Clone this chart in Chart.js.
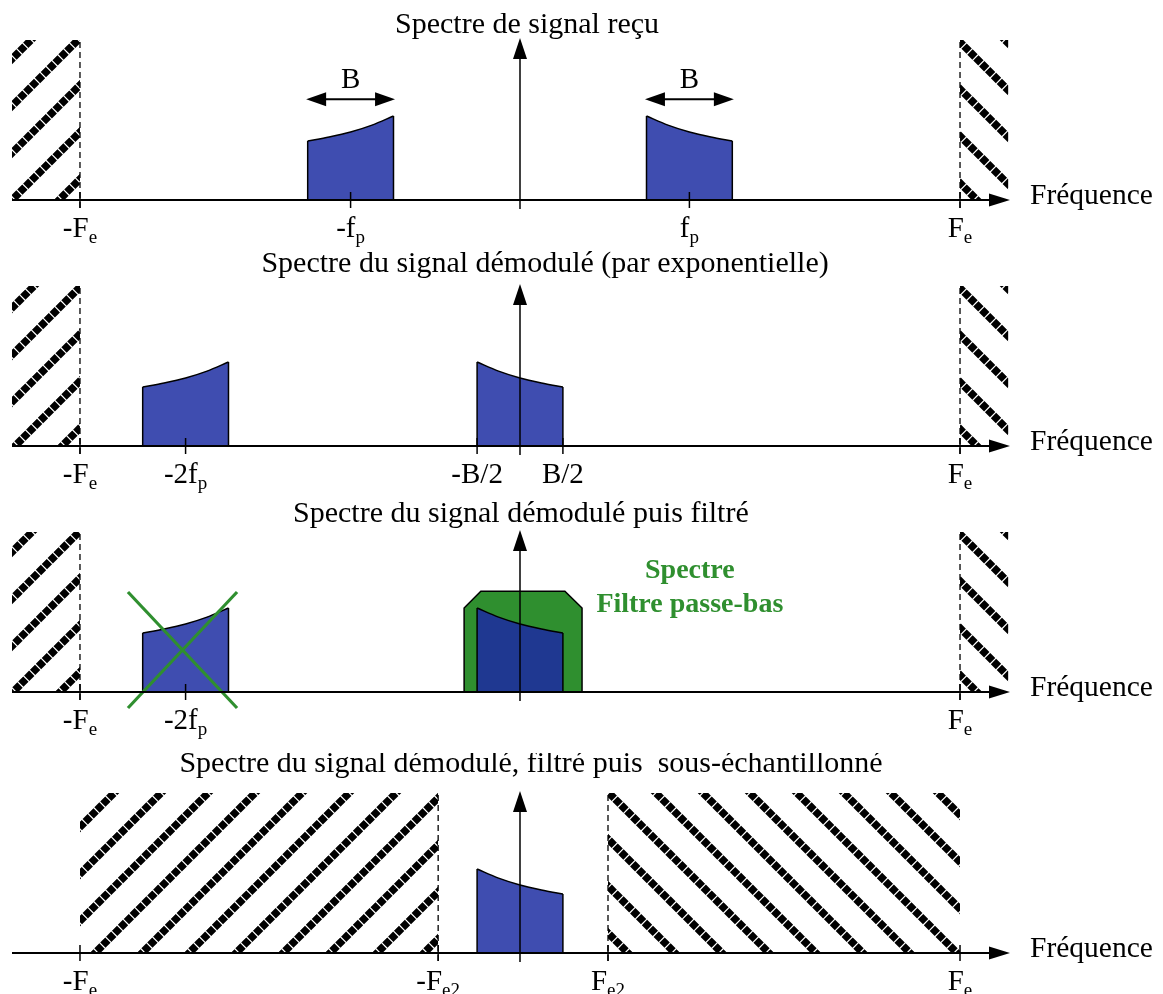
<!DOCTYPE html>
<html>
<head>
<meta charset="utf-8">
<script src="https://cdn.jsdelivr.net/npm/chart.js@4.4.1/dist/chart.umd.min.js"></script>
<style>
  html, body { margin: 0; padding: 0; background: #fff; overflow: hidden; width: 1163px; height: 994px; }
  canvas { position: absolute; left: 0; }
</style>
</head>
<body>
<canvas id="c1" width="1163" height="250" style="top:0px"></canvas>
<canvas id="c2" width="1163" height="250" style="top:246px"></canvas>
<canvas id="c3" width="1163" height="250" style="top:492px"></canvas>
<canvas id="c4" width="1163" height="250" style="top:753px"></canvas>
<script>
// ---------- DATA (frequency units: Fe = 100, amplitude units: hatch height = 100) ----------
const xLimits = [-115.45, 111.36];
const yLimits = [0, 100];
const hatchTop = [100];

// shapes of the spectral band (amplitude along the band, 5 samples)
const risingY  = [36.9, 39.4, 42.5, 46.8, 52.5];
const fallingY = [52.5, 46.8, 42.5, 39.4, 36.9];

// Panel 1 : Spectre de signal reçu
const p1Title = 'Spectre de signal reçu';
const p1HatchLeft  = [-115.45, -100];
const p1HatchRight = [100, 111];
const p1Dashed = [-100, 100];
const p1BandLeftX  = [-48.25, -43.375, -38.5, -33.625, -28.75];
const p1BandRightX = [28.75, 33.625, 38.5, 43.375, 48.25];
const p1TickValues = [-100, -38.5, 38.5, 100];
const p1TickLabels = ['-F_e', '-f_p', 'f_p', 'F_e'];
const p1WidthArrows = [[-48.6, -28.4], [28.4, 48.6]];
const p1WidthLabel = 'B';

// Panel 2 : démodulé (par exponentielle)
const p2Title = 'Spectre du signal démodulé (par exponentielle)';
const p2HatchLeft  = [-115.45, -100];
const p2HatchRight = [100, 111];
const p2Dashed = [-100, 100];
const p2BandLeftX = [-85.75, -80.875, -76, -71.125, -66.25];
const p2BandMidX  = [-9.75, -4.875, 0, 4.875, 9.75];
const p2TickValues = [-100, -76, -9.75, 9.75, 100];
const p2TickLabels = ['-F_e', '-2f_p', '-B/2', 'B/2', 'F_e'];

// Panel 3 : démodulé puis filtré
const p3Title = 'Spectre du signal démodulé puis filtré';
const p3HatchLeft  = [-115.45, -100];
const p3HatchRight = [100, 111];
const p3Dashed = [-100, 100];
const p3BandLeftX = [-85.75, -80.875, -76, -71.125, -66.25];
const p3BandMidX  = [-9.75, -4.875, 0, 4.875, 9.75];
const p3FilterX = [-12.7, -12.7, -8.9, 10.2, 14.1, 14.1];
const p3FilterY = [0, 52.5, 63, 63, 52.5, 0];
const p3CrossX = [-89.1, -64.3];
const p3CrossY = [62.5, -10];
const p3TickValues = [-100, -76, 100];
const p3TickLabels = ['-F_e', '-2f_p', 'F_e'];
const p3Note = ['Spectre', 'Filtre passe-bas'];

// Panel 4 : démodulé, filtré puis sous-échantillonné
const p4Title = 'Spectre du signal démodulé, filtré puis  sous-échantillonné';
const p4HatchLeft  = [-100, -18.6];
const p4HatchRight = [20, 100];
const p4Dashed = [-18.6, 20];
const p4BandMidX = [-9.75, -4.875, 0, 4.875, 9.75];
const p4TickValues = [-100, -18.6, 20, 100];
const p4TickLabels = ['-F_e', '-F_e2', 'F_e2', 'F_e'];

// ---------- STYLE ----------
const BLUE = '#3f4db0', DARKBLUE = '#1f3891', GREEN = '#2f8f2f';
const SERIF = '"Liberation Serif", "Times New Roman", serif';
const titleX   = [1.6, 5.7, 0.2, 2.5];
const titleGap = [7, 14, 10, 21];
const hatchPhaseL = [24, 27, 25, 13];
const hatchPhaseR = [25, 25, 25, 5];

function makeHatch(dir, phase) {
  const S = 47, c = document.createElement('canvas');
  c.width = S; c.height = S;
  const g = c.getContext('2d');
  if (dir < 0) { g.translate(S, 0); g.scale(-1, 1); }
  g.strokeStyle = '#000'; g.lineWidth = 7.5; g.lineCap = 'butt';
  const period = S * Math.SQRT2 / 8;
  g.setLineDash([period - 1.2, 1.2]);
  for (const k of [0, S, 2 * S]) {
    g.beginPath(); g.moveTo(k - S - 10, S + 10); g.lineTo(k + 10, -10); g.stroke();
  }
  const p = g.createPattern(c, 'repeat');
  p.setTransform(new DOMMatrix().translateSelf(phase, 0));
  return p;
}

// ---------- DATASET HELPERS ----------
function hatchDs(range, pattern) {
  return { data: [{ x: range[0], y: hatchTop[0] }, { x: range[1], y: hatchTop[0] }],
           fill: 'origin', backgroundColor: pattern, borderWidth: 0, pointRadius: 0, order: 20 };
}
function dashedDs(v) {
  return { data: [{ x: v, y: -5 }, { x: v, y: hatchTop[0] }], borderColor: '#000', borderWidth: 1.3,
           borderDash: [6, 4], pointRadius: 0, fill: false, clip: false, order: 4 };
}
function bandDs(xs, ys, color) {
  const pts = xs.map((v, i) => ({ x: v, y: ys[i] }));
  const n = xs.length - 1;
  return [
    { data: pts, fill: 'origin', backgroundColor: color, borderColor: '#000', borderWidth: 1.5,
      tension: 0.4, cubicInterpolationMode: 'monotone', pointRadius: 0, order: 10 },
    { data: [{ x: xs[0], y: 0 }, { x: xs[0], y: ys[0] }], borderColor: '#000', borderWidth: 1.5,
      pointRadius: 0, fill: false, order: 9 },
    { data: [{ x: xs[n], y: 0 }, { x: xs[n], y: ys[n] }], borderColor: '#000', borderWidth: 1.5,
      pointRadius: 0, fill: false, order: 9 }
  ];
}
function polyDs(xs, ys, color) {
  return { data: xs.map((v, i) => ({ x: v, y: ys[i] })), fill: 'origin', backgroundColor: color,
           borderColor: '#000', borderWidth: 1.5, pointRadius: 0, order: 12 };
}
function crossDs(xs, ys) {
  return [
    { data: [{ x: xs[0], y: ys[0] }, { x: xs[1], y: ys[1] }], borderColor: GREEN, borderWidth: 3.2,
      pointRadius: 0, fill: false, clip: false, order: 2 },
    { data: [{ x: xs[0], y: ys[1] }, { x: xs[1], y: ys[0] }], borderColor: GREEN, borderWidth: 3.2,
      pointRadius: 0, fill: false, clip: false, order: 2 }
  ];
}

// ---------- DECORATION PLUGIN (axes, arrows, tick labels, titles) ----------
function seg(ctx, x1, y1, x2, y2) { ctx.beginPath(); ctx.moveTo(x1, y1); ctx.lineTo(x2, y2); ctx.stroke(); }
function tri(ctx, ax, ay, bx, by, cx, cy) { ctx.beginPath(); ctx.moveTo(ax, ay); ctx.lineTo(bx, by); ctx.lineTo(cx, cy); ctx.closePath(); ctx.fill(); }
function drawLabel(ctx, lab, px, py) {
  const parts = lab.split('_');
  const mainFont = '29px ' + SERIF, subFont = '19px ' + SERIF;
  ctx.font = mainFont; const w1 = ctx.measureText(parts[0]).width;
  let w2 = 0;
  if (parts[1]) { ctx.font = subFont; w2 = ctx.measureText(parts[1]).width; }
  const sx = px - (w1 + w2) / 2;
  ctx.textAlign = 'left'; ctx.textBaseline = 'alphabetic';
  ctx.font = mainFont; ctx.fillText(parts[0], sx, py);
  if (parts[1]) { ctx.font = subFont; ctx.fillText(parts[1], sx + w1, py + 6); }
}
const decor = {
  id: 'decor',
  afterDatasetsDraw(chart, args, o) {
    const { ctx, chartArea: a, scales: { x, y } } = chart;
    const y0 = y.getPixelForValue(0), x0 = x.getPixelForValue(0);
    ctx.save();
    ctx.fillStyle = '#000'; ctx.strokeStyle = '#000';
    ctx.lineWidth = 2;
    seg(ctx, a.left, y0, a.right - 14, y0);
    tri(ctx, a.right, y0, a.right - 21, y0 - 6.5, a.right - 21, y0 + 6.5);
    ctx.lineWidth = 1.5;
    seg(ctx, x0, y0 + 9, x0, a.top + 12);
    tri(ctx, x0, a.top - 2, x0 - 7, a.top + 19, x0 + 7, a.top + 19);
    o.ticks.forEach((v, i) => {
      const px = x.getPixelForValue(v);
      ctx.lineWidth = 1.5;
      seg(ctx, px, y0 - 8, px, y0 + 8);
      drawLabel(ctx, o.labels[i], px, y0 + 37);
    });
    ctx.font = '29.5px ' + SERIF; ctx.textAlign = 'left'; ctx.textBaseline = 'alphabetic';
    ctx.fillText('Fréquence', a.right + 20, y0 + 4);
    ctx.font = '30px ' + SERIF; ctx.textAlign = 'center';
    ctx.fillText(o.title, x.getPixelForValue(o.titleX), a.top - o.titleGap);
    (o.arrows || []).forEach(r => {
      const l = x.getPixelForValue(r[0]), rr = x.getPixelForValue(r[1]);
      const ay = y.getPixelForValue(63);
      ctx.lineWidth = 2;
      seg(ctx, l + 10, ay, rr - 10, ay);
      tri(ctx, l, ay, l + 20, ay - 7, l + 20, ay + 7);
      tri(ctx, rr, ay, rr - 20, ay - 7, rr - 20, ay + 7);
      ctx.font = '29px ' + SERIF; ctx.textAlign = 'center';
      ctx.fillText(o.arrowLabel, (l + rr) / 2, y.getPixelForValue(70));
    });
    if (o.note) {
      ctx.fillStyle = GREEN; ctx.font = 'bold 28px ' + SERIF; ctx.textAlign = 'center';
      const nx = x.getPixelForValue(38.6);
      ctx.fillText(o.note[0], nx, y.getPixelForValue(71.25));
      ctx.fillText(o.note[1], nx, y.getPixelForValue(50));
    }
    ctx.restore();
  }
};

function panelChart(id, datasets, deco) {
  return new Chart(document.getElementById(id), {
    type: 'line',
    data: { datasets },
    options: {
      responsive: false, animation: false, devicePixelRatio: 1, events: [],
      layout: { padding: { top: 40, bottom: 50, left: 12, right: 153 } },
      scales: {
        x: { type: 'linear', min: xLimits[0], max: xLimits[1], display: false },
        y: { type: 'linear', min: yLimits[0], max: yLimits[1], display: false }
      },
      elements: { point: { radius: 0 }, line: { tension: 0 } },
      plugins: { legend: { display: false }, tooltip: { enabled: false }, decor: deco }
    },
    plugins: [decor]
  });
}

// Panel 1
panelChart('c1', [
  hatchDs(p1HatchLeft, makeHatch(1, hatchPhaseL[0])),
  hatchDs(p1HatchRight, makeHatch(-1, hatchPhaseR[0])),
  ...p1Dashed.map(dashedDs),
  ...bandDs(p1BandLeftX, risingY, BLUE),
  ...bandDs(p1BandRightX, fallingY, BLUE)
], { title: p1Title, titleX: titleX[0], titleGap: titleGap[0], ticks: p1TickValues, labels: p1TickLabels,
     arrows: p1WidthArrows, arrowLabel: p1WidthLabel });

// Panel 2
panelChart('c2', [
  hatchDs(p2HatchLeft, makeHatch(1, hatchPhaseL[1])),
  hatchDs(p2HatchRight, makeHatch(-1, hatchPhaseR[1])),
  ...p2Dashed.map(dashedDs),
  ...bandDs(p2BandLeftX, risingY, BLUE),
  ...bandDs(p2BandMidX, fallingY, BLUE)
], { title: p2Title, titleX: titleX[1], titleGap: titleGap[1], ticks: p2TickValues, labels: p2TickLabels });

// Panel 3
panelChart('c3', [
  hatchDs(p3HatchLeft, makeHatch(1, hatchPhaseL[2])),
  hatchDs(p3HatchRight, makeHatch(-1, hatchPhaseR[2])),
  ...p3Dashed.map(dashedDs),
  polyDs(p3FilterX, p3FilterY, GREEN),
  ...bandDs(p3BandLeftX, risingY, BLUE),
  ...bandDs(p3BandMidX, fallingY, DARKBLUE),
  ...crossDs(p3CrossX, p3CrossY)
], { title: p3Title, titleX: titleX[2], titleGap: titleGap[2], ticks: p3TickValues, labels: p3TickLabels,
     note: p3Note });

// Panel 4
panelChart('c4', [
  hatchDs(p4HatchLeft, makeHatch(1, hatchPhaseL[3])),
  hatchDs(p4HatchRight, makeHatch(-1, hatchPhaseR[3])),
  ...p4Dashed.map(dashedDs),
  ...bandDs(p4BandMidX, fallingY, BLUE)
], { title: p4Title, titleX: titleX[3], titleGap: titleGap[3], ticks: p4TickValues, labels: p4TickLabels });
</script>
</body>
</html>
